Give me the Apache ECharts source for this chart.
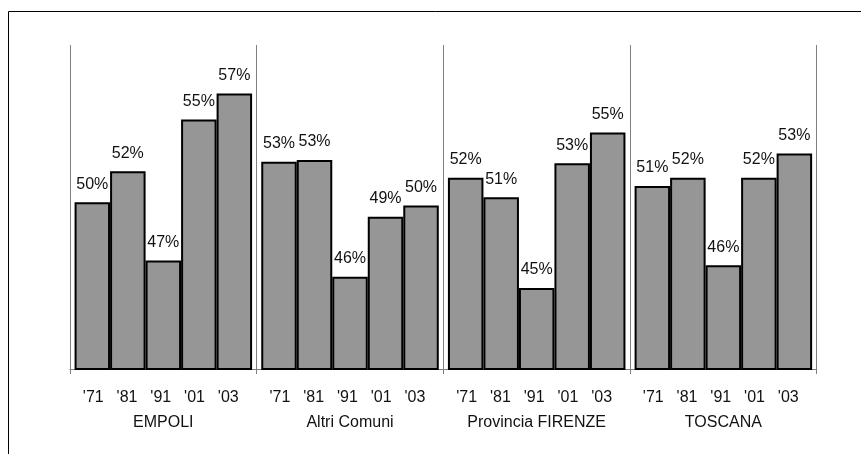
<!DOCTYPE html>
<html>
<head>
<meta charset="utf-8">
<script src="https://cdn.jsdelivr.net/npm/echarts@6/dist/echarts.min.js"></script>
<style>
  html, body { margin: 0; padding: 0; background: #fff; }
  #chart { width: 861px; height: 454px; }
</style>
</head>
<body>
<div id="chart"></div>
<script>
const regions = ['EMPOLI', 'Altri Comuni', 'Provincia FIRENZE', 'TOSCANA'];
const years = ["'71", "'81", "'91", "'01", "'03"];

// quota in % per anno
const empoli = [50.3, 52.2, 46.7, 55.4, 57.0];
const altriComuni = [52.8, 52.9, 45.7, 49.4, 50.1];
const provinciaFirenze = [51.8, 50.6, 45.0, 52.7, 54.6];
const toscana = [51.3, 51.8, 46.4, 51.8, 53.3];

const valori = [empoli, altriComuni, provinciaFirenze, toscana];

const font = "'Liberation Sans', Arial, sans-serif";
const fontSize = 16;
const grey = '#808080';

const chartDom = document.getElementById('chart');
const myChart = echarts.init(chartDom, null, { renderer: 'canvas' });

const plotLeft = 70;
const plotRight = 44.3;
const groupW = (861 - plotLeft - plotRight) / regions.length;

// griglia principale + una griglia per le etichette degli anni di ogni gruppo
const grids = [{ left: plotLeft, right: plotRight, top: 45, bottom: 454 - 369 }];
const xAxes = [{
  type: 'category',
  gridIndex: 0,
  data: regions,
  axisLine: { lineStyle: { color: grey, width: 1 } },
  axisTick: { show: true, length: 5, lineStyle: { color: grey } },
  splitLine: { show: true, lineStyle: { color: grey, width: 1 } },
  axisLabel: { interval: 0, margin: 46, fontFamily: font, fontSize: fontSize, color: '#111' }
}];
const yAxes = [{ type: 'value', gridIndex: 0, min: 40, max: 60, show: false }];

regions.forEach((r, i) => {
  grids.push({ left: plotLeft + groupW * i + 6.4, width: 168.75, top: 45, bottom: 454 - 369 });
  xAxes.push({
    type: 'category',
    gridIndex: i + 1,
    data: years,
    axisLine: { show: false },
    axisTick: { show: false },
    axisLabel: { interval: 0, margin: 21, fontFamily: font, fontSize: fontSize, color: '#111' }
  });
  yAxes.push({ type: 'value', gridIndex: i + 1, min: 40, max: 60, show: false });
});

const series = years.map((y, j) => ({
  name: y,
  type: 'bar',
  xAxisIndex: 0,
  yAxisIndex: 0,
  barGap: '0%',
  barCategoryGap: '4.9%',
  data: valori.map(v => v[j]),
  itemStyle: { color: '#969696', borderColor: '#000', borderWidth: 2 },
  label: {
    show: true,
    position: 'top',
    distance: 10,
    fontFamily: font,
    fontSize: fontSize,
    color: '#111',
    formatter: p => Math.round(p.value) + '%'
  }
}));

const option = {
  animation: false,
  grid: grids,
  xAxis: xAxes,
  yAxis: yAxes,
  series: series,
  graphic: [{
    type: 'rect',
    shape: { x: 8.5, y: 11.5, width: 1000, height: 1000 },
    style: { fill: 'none', stroke: '#000', lineWidth: 1 },
    silent: true
  }]
};

myChart.setOption(option);
</script>
</body>
</html>
